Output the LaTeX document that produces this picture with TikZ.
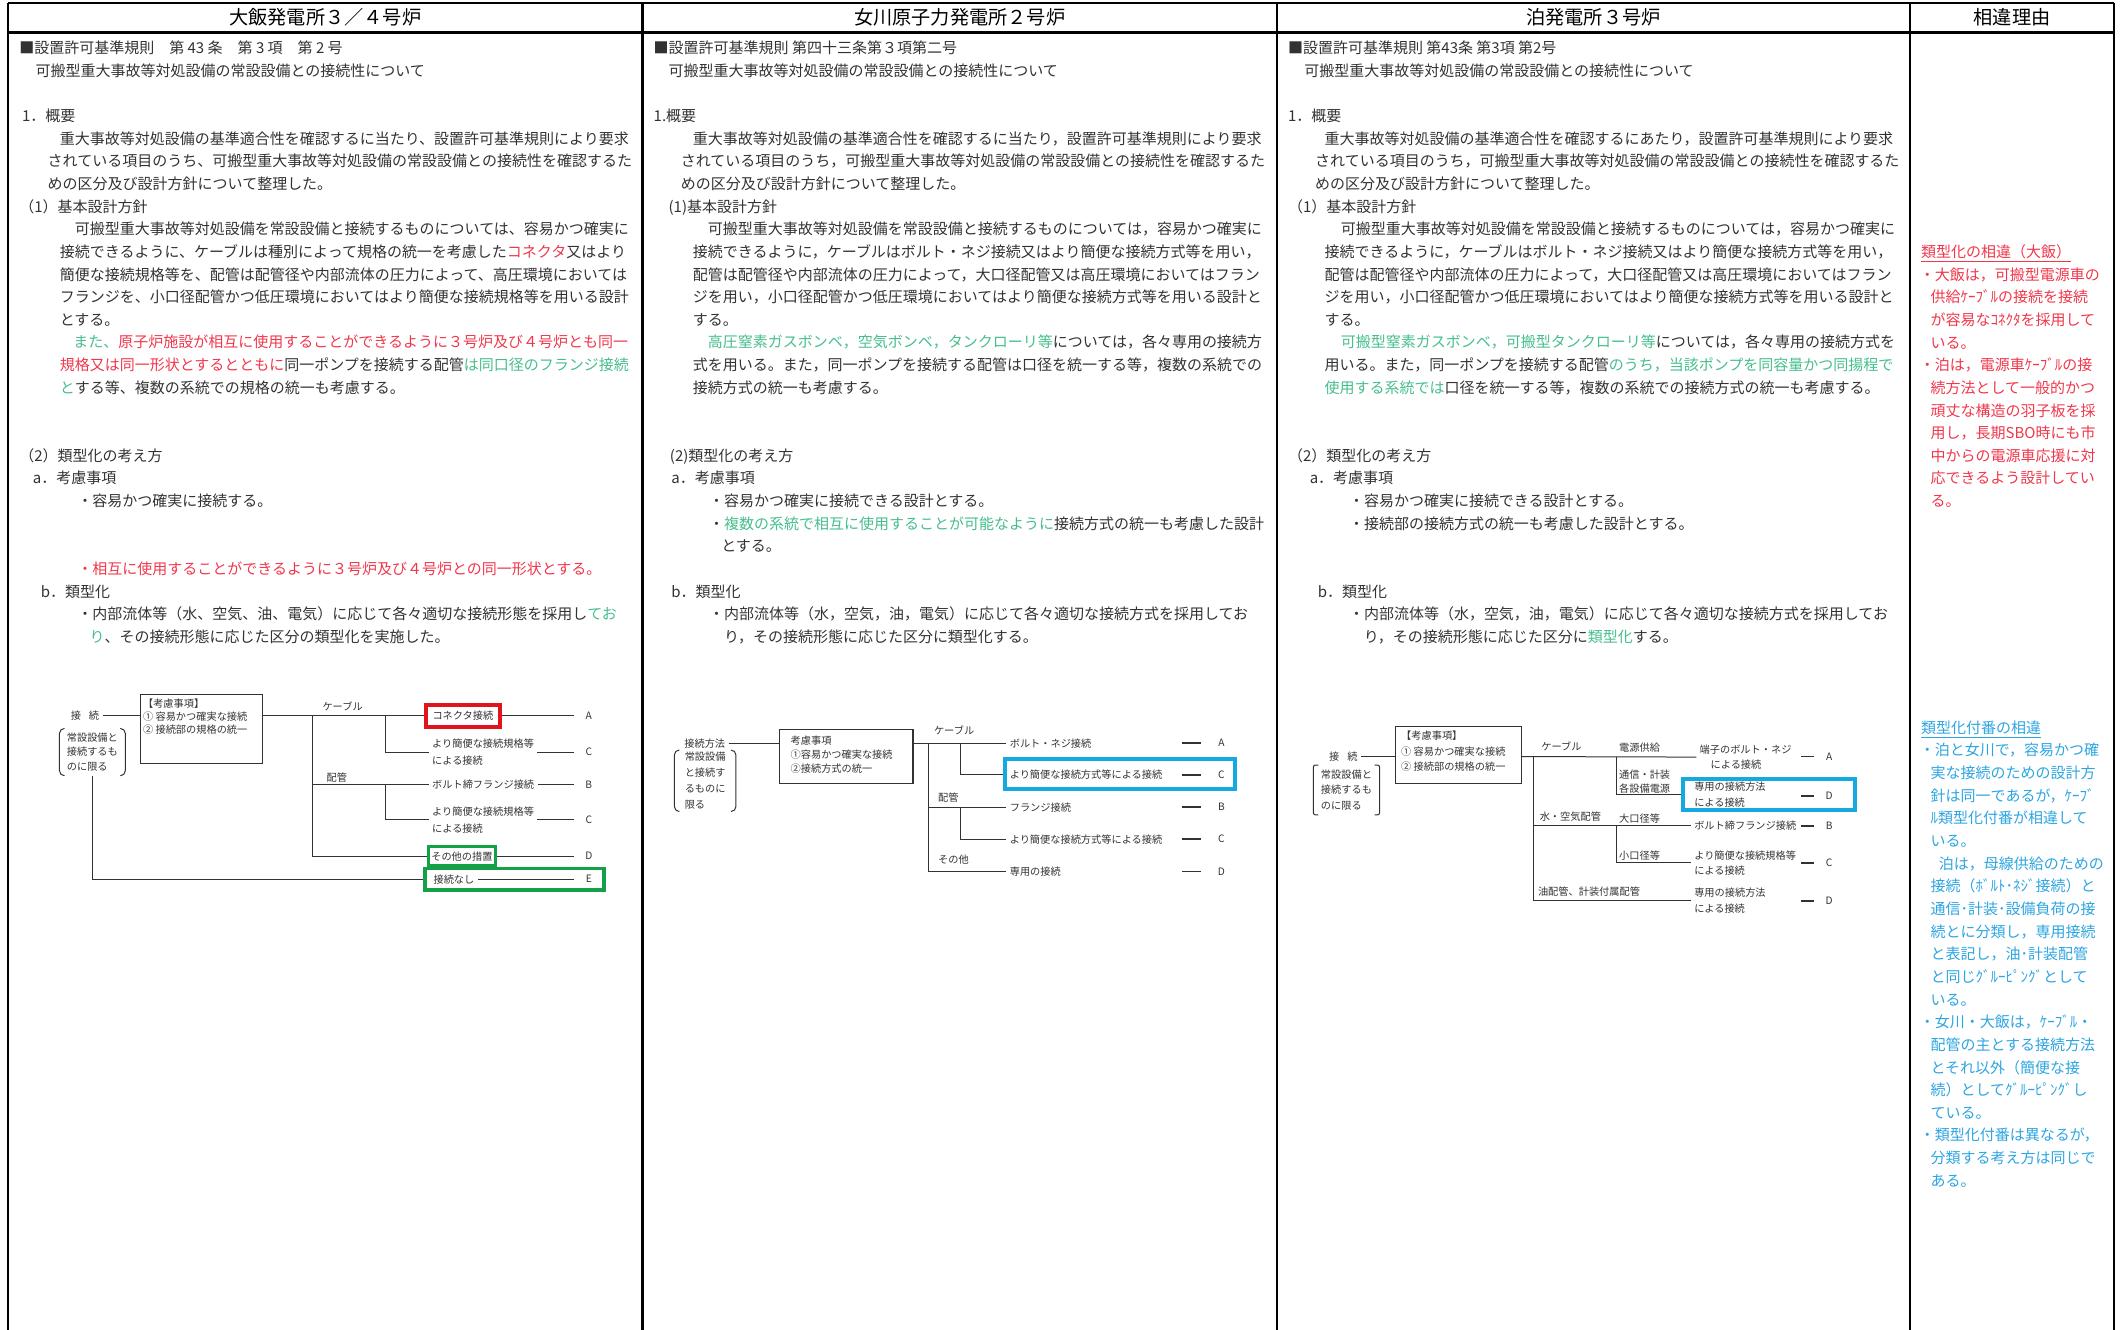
\documentclass[tikz,border=0pt]{standalone}
\usepackage{fontspec}
\setmainfont{Noto Sans CJK JP}

\definecolor{txtgray}{RGB}{50,50,50}
\definecolor{chgred}{RGB}{240,55,75}
\definecolor{chggreen}{RGB}{70,190,140}
\definecolor{chgblue}{RGB}{45,165,225}
\definecolor{boxred}{RGB}{225,20,30}
\definecolor{boxgreen}{RGB}{20,160,70}
\definecolor{boxblue}{RGB}{20,170,225}

\newlength\gridu
\setlength\gridu{0.6765pt}
\newcommand\bodyfont{\fontsize{7.5}{11.33}\selectfont}
\newcommand\diagfont{\fontsize{5.1}{7.6}\selectfont}

\begin{document}
\begin{tikzpicture}[x=0.6765pt, y=-0.6765pt,
  frame/.style={draw=black, line width=1.1pt},
  headtext/.style={inner sep=0pt, font=\fontsize{9.6}{11}\selectfont},
  bodytext/.style={anchor=north west, inner sep=0pt, align=left, font=\bodyfont, text=txtgray},
  dtext/.style={inner xsep=1.5pt, inner ysep=0pt, align=left, font=\diagfont, text=txtgray},
  limtext/.style={inner xsep=3.5pt, inner ysep=2pt, align=left, font=\diagfont, text=txtgray},
  dkey/.style={inner sep=0pt, font=\diagfont, text=txtgray},
  link/.style={draw=txtgray, line width=0.5pt},
  keydash/.style={draw=txtgray, line width=0.8pt},
  consbox/.style={draw=txtgray, line width=0.6pt, inner sep=0pt},
  markred/.style={draw=boxred, line width=2pt, inner xsep=3.5pt, inner ysep=0pt, minimum height=11pt, font=\diagfont, text=txtgray},
  markgreen/.style={draw=boxgreen, line width=1.8pt, inner xsep=1.5pt, inner ysep=0pt, font=\diagfont, text=txtgray},
  markblue/.style={draw=boxblue, line width=1.8pt, inner sep=0pt}]
\useasboundingbox (0,0) rectangle (1568,983);

% table
\draw[frame] (6,2) -- (1563,2);
\draw[frame, line width=1.4pt] (6,24) -- (1563,24);
\foreach \cx in {6,475,944,1412,1563}
  \draw[frame] (\cx,2) -- (\cx,983);

\node[headtext] (h1) at (240.5,13) {大飯発電所３／４号炉};
\node[headtext] (h2) at (709.5,13) {女川原子力発電所２号炉};
\node[headtext] (h3) at (1178,13) {泊発電所３号炉};
\node[headtext] (h4) at (1487.5,13) {相違理由};

% 大飯
\node[bodytext] (t1) at (14,27.5) {\strut■設置許可基準規則　第 43 条　第 3 項　第 2 号\\
\hspace*{12\gridu}可搬型重大事故等対処設備の常設設備との接続性について\\
\mbox{}\\
\hspace*{2\gridu}1．概要\\
\hspace*{30\gridu}重大事故等対処設備の基準適合性を確認するに当たり、設置許可基準規則により要求\\
\hspace*{21\gridu}されている項目のうち、可搬型重大事故等対処設備の常設設備との接続性を確認するた\\
\hspace*{21\gridu}めの区分及び設計方針について整理した。\\
（1）基本設計方針\\
\hspace*{41\gridu}可搬型重大事故等対処設備を常設設備と接続するものについては、容易かつ確実に\\
\hspace*{30\gridu}接続できるように、ケーブルは種別によって規格の統一を考慮した\textcolor{chgred}{コネクタ}又はより\\
\hspace*{30\gridu}簡便な接続規格等を、配管は配管径や内部流体の圧力によって、高圧環境においては\\
\hspace*{30\gridu}フランジを、小口径配管かつ低圧環境においてはより簡便な接続規格等を用いる設計\\
\hspace*{30\gridu}とする。\\
\hspace*{40\gridu}\textcolor{chggreen}{また、}\textcolor{chgred}{原子炉施設が相互に使用することができるように３号炉及び４号炉とも同一}\\
\hspace*{30\gridu}\textcolor{chgred}{規格又は同一形状とするとともに}同一ポンプを接続する配管\textcolor{chggreen}{は同口径のフランジ接続}\\
\hspace*{30\gridu}\textcolor{chggreen}{と}する等、複数の系統での規格の統一も考慮する。\\
\mbox{}\\
\mbox{}\\
（2）類型化の考え方\\
\hspace*{10\gridu}a．考慮事項\\
\hspace*{43\gridu}・容易かつ確実に接続する。\\
\mbox{}\\
\mbox{}\\
\hspace*{43\gridu}\textcolor{chgred}{・相互に使用することができるように３号炉及び４号炉との同一形状とする。}\\
\hspace*{16\gridu}b．類型化\\
\hspace*{43\gridu}・内部流体等（水、空気、油、電気）に応じて各々適切な接続形態を採用し\textcolor{chggreen}{てお}\\
\hspace*{52\gridu}\textcolor{chggreen}{り}、その接続形態に応じた区分の類型化を実施した。};

% 大飯 diagram
\node[dtext] (c1conn) at (62.8,529) {接\hspace{4pt}続};
\node[limtext, font=\fontsize{5.1}{7.3}\selectfont] (c1lim) at (68.3,556) {常設設備と\\接続するも\\のに限る};
\node[consbox, minimum width=61pt, minimum height=34.2pt] (c1cons) at (148.8,538.9) {};
\node[dtext, anchor=north west, font=\fontsize{5.1}{6.6}\selectfont] (c1consT) at ([yshift=-2.2pt]c1cons.north west) {【考慮事項】\\① 容易かつ確実な接続\\② 接続部の規格の統一};
\coordinate (c1j1) at (231,529);
\coordinate (c1j2) at (285.2,529);
\node[dtext] (c1cab) at (253.3,522) {ケーブル};
\node[dtext] (c1pipe) at (249,575) {配管};
\node[markred] (c1A) at (342.2,529) {コネクタ接続};
\node[dtext, anchor=west, font=\fontsize{5.1}{8.4}\selectfont] (c1C1) at (317,556) {より簡便な接続規格等\\による接続};
\node[dtext, anchor=west] (c1B) at (317,580) {ボルト締フランジ接続};
\node[dtext, anchor=west, font=\fontsize{5.1}{8.4}\selectfont] (c1C2) at (317,606) {より簡便な接続規格等\\による接続};
\node[markgreen, minimum width=33pt, minimum height=9.8pt] (c1D) at (341.5,633) {その他の措置};
\node[markgreen, minimum width=89.3pt, minimum height=10.8pt] (c1E) at (380.4,650) {};
\node[dtext, anchor=west] (c1Etxt) at (318,650) {接続なし};
\node[dkey] (c1Ak) at (435.3,529) {A};
\node[dkey] (c1C1k) at (435.3,556) {C};
\node[dkey] (c1Bk) at (435.3,580) {B};
\node[dkey] (c1C2k) at (435.3,606) {C};
\node[dkey] (c1Dk) at (435.3,633) {D};
\node[dkey] (c1Ek) at (435.3,650) {E};
\draw[link] (c1conn.east) -- (c1conn.east -| c1cons.west);
\draw[link] (c1conn.east -| c1cons.east) -- (c1A.west);
\draw[link] (c1j1) |- (c1D.west);
\draw[link] (c1j1 |- c1B.west) -- (c1B.west);
\draw[link] (c1j2) |- (c1C1.west);
\draw[link] (c1j2 |- c1B.west) |- (c1C2.west);
\draw[link] (c1lim.south) |- (c1E.west);
\foreach \a/\b in {c1A/c1Ak, c1C1/c1C1k, c1B/c1Bk, c1C2/c1C2k, c1D/c1Dk, c1Etxt/c1Ek}
  \draw[link, shorten >=5.5pt] (\a.east) -- (\b.west);

% 女川
\node[bodytext] (t2) at (483,27.5) {\strut■設置許可基準規則 第四十三条第３項第二号\\
\hspace*{11\gridu}可搬型重大事故等対処設備の常設設備との接続性について\\
\mbox{}\\
1.概要\\
\hspace*{29\gridu}重大事故等対処設備の基準適合性を確認するに当たり，設置許可基準規則により要求\\
\hspace*{20\gridu}されている項目のうち，可搬型重大事故等対処設備の常設設備との接続性を確認するた\\
\hspace*{20\gridu}めの区分及び設計方針について整理した。\\
\hspace*{11\gridu}(1)基本設計方針\\
\hspace*{40\gridu}可搬型重大事故等対処設備を常設設備と接続するものについては，容易かつ確実に\\
\hspace*{29\gridu}接続できるように，ケーブルはボルト・ネジ接続又はより簡便な接続方式等を用い，\\
\hspace*{29\gridu}配管は配管径や内部流体の圧力によって，大口径配管又は高圧環境においてはフラン\\
\hspace*{29\gridu}ジを用い，小口径配管かつ低圧環境においてはより簡便な接続方式等を用いる設計と\\
\hspace*{29\gridu}する。\\
\hspace*{40\gridu}\textcolor{chggreen}{高圧窒素ガスボンベ，空気ボンベ，タンクローリ等}については，各々専用の接続方\\
\hspace*{29\gridu}式を用いる。また，同一ポンプを接続する配管は口径を統一する等，複数の系統での\\
\hspace*{29\gridu}接続方式の統一も考慮する。\\
\mbox{}\\
\mbox{}\\
\hspace*{12\gridu}(2)類型化の考え方\\
\hspace*{13\gridu}a．考慮事項\\
\hspace*{41\gridu}・容易かつ確実に接続できる設計とする。\\
\hspace*{41\gridu}・\textcolor{chggreen}{複数の系統で相互に使用することが可能なように}接続方式の統一も考慮した設計\\
\hspace*{50\gridu}とする。\\
\mbox{}\\
\hspace*{13\gridu}b．類型化\\
\hspace*{41\gridu}・内部流体等（水，空気，油，電気）に応じて各々適切な接続方式を採用してお\\
\hspace*{52\gridu}り，その接続形態に応じた区分に類型化する。};

% 女川 diagram
\node[dtext] (c2meth) at (521,549.4) {接続方法};
\node[limtext, inner xsep=5pt, inner ysep=1pt, font=\fontsize{5.1}{7.9}\selectfont] (c2lim) at (521.3,577.2) {常設設備\\と接続す\\るものに\\限る};
\node[consbox, minimum width=66.6pt, minimum height=26.7pt] (c2cons) at (625.75,559.3) {};
\node[dtext, anchor=north west, font=\fontsize{5.1}{7.07}\selectfont] (c2consT) at ([xshift=4pt,yshift=-3.2pt]c2cons.north west) {考慮事項\\①容易かつ確実な接続\\②接続方式の統一};
\coordinate (c2j1) at (686.6,549.4);
\coordinate (c2j2) at (709.8,549.4);
\node[dtext, anchor=west] (c2cab) at (688,540) {ケーブル};
\node[dtext, anchor=west] (c2pipe) at (691,589.3) {配管};
\node[dtext, anchor=west] (c2oth) at (691,635.2) {その他};
\node[dtext, anchor=west] (c2A) at (744,549.4) {ボルト・ネジ接続};
\node[markblue, minimum width=115pt, minimum height=15pt] (c2C1box) at (828,572.3) {};
\node[dtext, anchor=west] (c2C1) at (744,573) {より簡便な接続方式等による接続};
\node[dtext, anchor=west] (c2B) at (744,596.7) {フランジ接続};
\node[dtext, anchor=west] (c2C2) at (744,620.4) {より簡便な接続方式等による接続};
\node[dtext, anchor=west] (c2D) at (744,644.3) {専用の接続};
\node[dkey] (c2Ak) at (903,549.4) {A};
\node[dkey] (c2C1k) at (903,573) {C};
\node[dkey] (c2Bk) at (903,596.7) {B};
\node[dkey] (c2C2k) at (903,620.4) {C};
\node[dkey] (c2Dk) at (903,644.3) {D};
\draw[link] (c2meth.east) -- (c2meth.east -| c2cons.west);
\draw[link] (c2meth.east -| c2cons.east) -- (c2A.west);
\draw[link] (c2j1) |- (c2D.west);
\draw[link] (c2j2) |- (c2C1box.west);
\draw[link] (c2j1 |- c2B.west) -- (c2B.west);
\draw[link] (c2j2 |- c2B.west) |- (c2C2.west);
\foreach \k in {c2Ak, c2C1k, c2Bk, c2C2k, c2Dk}
  \draw[keydash] ([xshift=-19.6pt]\k.center) -- ([xshift=-10.1pt]\k.center);

% 泊
\node[bodytext] (t3) at (952,27.5) {\strut■設置許可基準規則 第43条 第3項 第2号\\
\hspace*{12\gridu}可搬型重大事故等対処設備の常設設備との接続性について\\
\mbox{}\\
1．概要\\
\hspace*{27\gridu}重大事故等対処設備の基準適合性を確認するにあたり，設置許可基準規則により要求\\
\hspace*{20\gridu}されている項目のうち，可搬型重大事故等対処設備の常設設備との接続性を確認するた\\
\hspace*{20\gridu}めの区分及び設計方針について整理した。\\
（1）基本設計方針\\
\hspace*{39\gridu}可搬型重大事故等対処設備を常設設備と接続するものについては，容易かつ確実に\\
\hspace*{27\gridu}接続できるように，ケーブルはボルト・ネジ接続又はより簡便な接続方式等を用い，\\
\hspace*{27\gridu}配管は配管径や内部流体の圧力によって，大口径配管又は高圧環境においてはフラン\\
\hspace*{27\gridu}ジを用い，小口径配管かつ低圧環境においてはより簡便な接続方式等を用いる設計と\\
\hspace*{27\gridu}する。\\
\hspace*{39\gridu}\textcolor{chggreen}{可搬型窒素ガスボンベ，可搬型タンクローリ等}については，各々専用の接続方式を\\
\hspace*{27\gridu}用いる。また，同一ポンプを接続する配管\textcolor{chggreen}{のうち，当該ポンプを同容量かつ同揚程で}\\
\hspace*{27\gridu}\textcolor{chggreen}{使用する系統では}口径を統一する等，複数の系統での接続方式の統一も考慮する。\\
\mbox{}\\
\mbox{}\\
（2）類型化の考え方\\
\hspace*{16\gridu}a．考慮事項\\
\hspace*{45\gridu}・容易かつ確実に接続できる設計とする。\\
\hspace*{45\gridu}・接続部の接続方式の統一も考慮した設計とする。\\
\mbox{}\\
\mbox{}\\
\hspace*{22\gridu}b．類型化\\
\hspace*{45\gridu}・内部流体等（水，空気，油，電気）に応じて各々適切な接続方式を採用してお\\
\hspace*{56\gridu}り，その接続形態に応じた区分に\textcolor{chggreen}{類型化}する。};

% 泊 diagram
\node[dtext] (c3conn) at (993.1,559.3) {接\hspace{4pt}続};
\node[limtext, inner xsep=3.6pt, inner ysep=2.3pt, font=\fontsize{5.1}{7.6}\selectfont] (c3lim) at (995.4,584) {常設設備と\\接続するも\\のに限る};
\node[consbox, minimum width=63pt, minimum height=28.7pt] (c3cons) at (1078,558.3) {};
\node[dtext, anchor=north west, font=\fontsize{5.1}{7.7}\selectfont] (c3consT) at ([xshift=1.6pt,yshift=-2.4pt]c3cons.north west) {【考慮事項】\\① 容易かつ確実な接続\\② 接続部の規格の統一};
\coordinate (c3j1) at (1133.8,559.3);
\coordinate (c3j2) at (1194.8,559.3);
\node[dtext, anchor=west] (c3cab) at (1137,552) {ケーブル};
\node[dtext, anchor=west] (c3pow) at (1194.5,553) {電源供給};
\node[dtext, anchor=west, font=\fontsize{5.1}{6.7}\selectfont] (c3com) at (1194.5,577.8) {通信・計装\\各設備電源};
\node[dtext, anchor=west] (c3wat) at (1135.8,603.6) {水・空気配管};
\node[dtext, anchor=west] (c3lrg) at (1194.5,605) {大口径等};
\node[dtext, anchor=west] (c3sml) at (1194.5,632.5) {小口径等};
\node[dtext, anchor=west] (c3oil) at (1134.5,659.5) {油配管、計装付属配管};
\node[dtext, anchor=west, font=\fontsize{5.1}{7.85}\selectfont] (c3A) at (1254,559.7) {端子のボルト・ネジ\\\hspace*{5.5pt}による接続};
\node[markblue, minimum width=86pt, minimum height=15.4pt] (c3D1box) at (1307.7,587.4) {};
\node[dtext, anchor=west, font=\fontsize{5.1}{8}\selectfont] (c3D1) at (1250,587.4) {専用の接続方法\\による接続};
\node[dtext, anchor=west] (c3B) at (1250,610.5) {ボルト締フランジ接続};
\node[dtext, anchor=west, font=\fontsize{5.1}{7.5}\selectfont] (c3C) at (1250,637.8) {より簡便な接続規格等\\による接続};
\node[dtext, anchor=west, font=\fontsize{5.1}{8}\selectfont] (c3D2) at (1250,666) {専用の接続方法\\による接続};
\node[dkey] (c3Ak) at (1352.2,559.3) {A};
\node[dkey] (c3D1k) at (1352.2,588.4) {D};
\node[dkey] (c3Bk) at (1352.2,610.5) {B};
\node[dkey] (c3Ck) at (1352.2,637.8) {C};
\node[dkey] (c3D2k) at (1352.2,666) {D};
\draw[link] (c3conn.east) -- (c3conn.east -| c3cons.west);
\draw[link] (c3conn.east -| c3cons.east) -- (c3A.west);
\draw[link] (c3j1) |- (c3D2.west);
\draw[link] (c3j2) |- (c3D1box.west);
\draw[link] (c3j1 |- c3B.west) -- (c3B.west);
\draw[link] (c3j2 |- c3B.west) |- (c3C.west);
\foreach \k in {c3Ak, c3D1k, c3Bk, c3Ck, c3D2k}
  \draw[keydash] ([xshift=-13.9pt]\k.center) -- ([xshift=-7.4pt]\k.center);

% brackets
\foreach \lim/\rc in {c1lim/2.5pt, c2lim/2.5pt, c3lim/1pt} {
  \draw[link, rounded corners=\rc] ([xshift=2.5pt]\lim.north west) -- (\lim.north west) -- (\lim.south west) -- ([xshift=2.5pt]\lim.south west);
  \draw[link, rounded corners=\rc] ([xshift=-2.5pt]\lim.north east) -- (\lim.north east) -- (\lim.south east) -- ([xshift=-2.5pt]\lim.south east);
}

% 相違理由
\node[bodytext, text=chgred] (t4a) at (1419,178.3) {\strut\hspace*{1\gridu}\underline{類型化の相違（大飯）}\\
・大飯は，可搬型電源車の\\
\hspace*{8\gridu}供給ｹｰﾌﾞﾙの接続を接続\\
\hspace*{8\gridu}が容易なｺﾈｸﾀを採用して\\
\hspace*{8\gridu}いる。\\
・泊は，電源車ｹｰﾌﾞﾙの接\\
\hspace*{8\gridu}続方法として一般的かつ\\
\hspace*{8\gridu}頑丈な構造の羽子板を採\\
\hspace*{8\gridu}用し，長期SBO時にも市\\
\hspace*{8\gridu}中からの電源車応援に対\\
\hspace*{8\gridu}応できるよう設計してい\\
\hspace*{8\gridu}る。};
\node[bodytext, text=chgblue] (t4b) at (1419,530) {\strut\hspace*{1\gridu}\underline{類型化付番の相違}\\
・泊と女川で，容易かつ確\\
\hspace*{8\gridu}実な接続のための設計方\\
\hspace*{8\gridu}針は同一であるが，ｹｰﾌﾞ\\
\hspace*{8\gridu}ﾙ類型化付番が相違して\\
\hspace*{8\gridu}いる。\\
\hspace*{14\gridu}泊は，母線供給のための\\
\hspace*{8\gridu}接続（ﾎﾞﾙﾄ･ﾈｼﾞ接続）と\\
\hspace*{8\gridu}通信･計装･設備負荷の接\\
\hspace*{8\gridu}続とに分類し，専用接続\\
\hspace*{8\gridu}と表記し，油･計装配管\\
\hspace*{8\gridu}と同じｸﾞﾙｰﾋﾟﾝｸﾞとして\\
\hspace*{8\gridu}いる。\\
・女川・大飯は，ｹｰﾌﾞﾙ・\\
\hspace*{8\gridu}配管の主とする接続方法\\
\hspace*{8\gridu}とそれ以外（簡便な接\\
\hspace*{8\gridu}続）としてｸﾞﾙｰﾋﾟﾝｸﾞし\\
\hspace*{8\gridu}ている。\\
・類型化付番は異なるが，\\
\hspace*{8\gridu}分類する考え方は同じで\\
\hspace*{8\gridu}ある。};
\end{tikzpicture}
\end{document}
